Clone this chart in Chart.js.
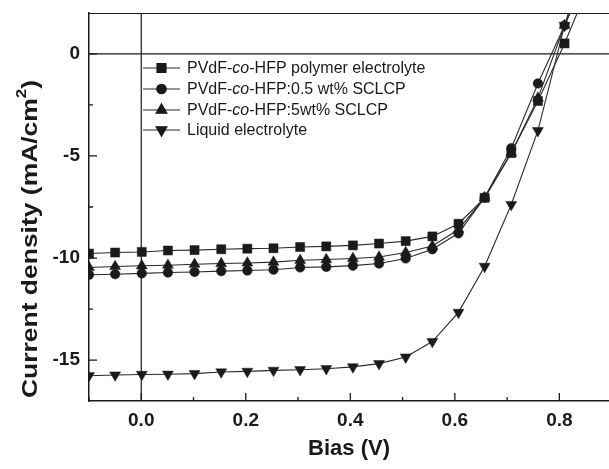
<!DOCTYPE html>
<html>
<head>
<meta charset="utf-8">
<script src="https://cdn.jsdelivr.net/npm/chart.js@4.4.1/dist/chart.umd.min.js"></script>
<style>
  html, body { margin: 0; padding: 0; background: #fff; }
</style>
</head>
<body>
<canvas id="jvChart" width="609" height="469"></canvas>
<script>
// bias points (V)
const bias = [-0.1, -0.05, 0.001, 0.051, 0.102, 0.153, 0.203, 0.253, 0.304, 0.354,
              0.405, 0.455, 0.506, 0.557, 0.607, 0.657, 0.708, 0.759, 0.81, 0.86];

// current density (mA/cm2)
const polymerElectrolyte = [-9.78, -9.73, -9.70, -9.63, -9.61, -9.57, -9.54, -9.52, -9.46, -9.43,
                            -9.38, -9.29, -9.17, -8.94, -8.32, -7.05, -4.86, -2.31, 0.51, 3.6];
const sclcp05 = [-10.82, -10.79, -10.75, -10.71, -10.68, -10.64, -10.61, -10.57, -10.46, -10.43,
                 -10.37, -10.27, -10.02, -9.57, -8.79, -7.04, -4.62, -1.45, 1.39, 4.3];
const sclcp5 = [-10.46, -10.41, -10.38, -10.35, -10.30, -10.27, -10.24, -10.20, -10.11, -10.07,
                -10.02, -9.95, -9.73, -9.41, -8.60, -7.04, -4.85, -2.17, 1.39, 4.4];
const liquidElectrolyte = [-15.76, -15.73, -15.70, -15.69, -15.66, -15.58, -15.55, -15.50, -15.47, -15.42,
                           -15.33, -15.17, -14.85, -14.09, -12.66, -10.41, -7.38, -3.76, 1.39, 5.5];

const legendLabels = [
  'PVdF-*co*-HFP polymer electrolyte',
  'PVdF-*co*-HFP:0.5 wt% SCLCP',
  'PVdF-*co*-HFP:5wt% SCLCP',
  'Liquid electrolyte'
];

const xTicks = [0.0, 0.2, 0.4, 0.6, 0.8];
const xMinorTicks = [-0.1, 0.1, 0.3, 0.5, 0.7];
const yTicks = [0, -5, -10, -15];
const yMinorTicks = [-2.5, -7.5, -12.5];

const FONT = '"Liberation Sans", Arial, Helvetica, sans-serif';
const INK = '#1a1a1a';

function pts(ys) {
  return bias.map((x, i) => ({ x: x, y: ys[i] }));
}

const markers = [
  { pointStyle: 'rect', radius: 6.4, rotation: 0 },
  { pointStyle: 'circle', radius: 4.8, rotation: 0 },
  { pointStyle: 'triangle', radius: 6.3, rotation: 0 },
  { pointStyle: 'triangle', radius: 6.3, rotation: 180 }
];
const seriesData = [polymerElectrolyte, sclcp05, sclcp5, liquidElectrolyte];

const datasets = seriesData.map((ys, i) => ({
  label: legendLabels[i].replace(/\*/g, ''),
  data: pts(ys),
  borderColor: '#2a2a2a',
  borderWidth: 1.1,
  backgroundColor: INK,
  pointBackgroundColor: INK,
  pointBorderColor: INK,
  pointBorderWidth: 0.5,
  pointStyle: markers[i].pointStyle,
  pointRadius: markers[i].radius,
  pointRotation: markers[i].rotation,
  tension: 0,
  fill: false
}));

// frame, zero lines, inward ticks, titles and legend
const framePlugin = {
  id: 'frame',
  beforeDatasetsDraw(chart) {
    const { ctx, chartArea: a, scales: { x, y } } = chart;
    ctx.save();
    ctx.strokeStyle = INK;
    ctx.lineWidth = 1.2;
    ctx.beginPath();
    ctx.moveTo(a.left, a.top + 0.5); ctx.lineTo(a.right, a.top + 0.5);
    const y0 = y.getPixelForValue(0);
    ctx.moveTo(a.left, y0); ctx.lineTo(a.right, y0);
    const x0 = x.getPixelForValue(0);
    ctx.moveTo(x0, a.top); ctx.lineTo(x0, a.bottom);
    ctx.stroke();

    ctx.lineWidth = 1.3;
    ctx.beginPath();
    xTicks.forEach(v => { const p = x.getPixelForValue(v); ctx.moveTo(p, a.bottom); ctx.lineTo(p, a.bottom - 8); });
    xMinorTicks.forEach(v => { const p = x.getPixelForValue(v); ctx.moveTo(p, a.bottom); ctx.lineTo(p, a.bottom - 4); });
    yTicks.forEach(v => { const p = y.getPixelForValue(v); ctx.moveTo(a.left, p); ctx.lineTo(a.left + 8, p); });
    yMinorTicks.forEach(v => { const p = y.getPixelForValue(v); ctx.moveTo(a.left, p); ctx.lineTo(a.left + 4, p); });
    ctx.stroke();
    ctx.restore();
  },
  afterDraw(chart) {
    const { ctx } = chart;
    ctx.save();
    ctx.fillStyle = INK;

    // x title
    ctx.font = 'bold 22px ' + FONT;
    ctx.textAlign = 'center';
    ctx.textBaseline = 'middle';
    ctx.fillText('Bias (V)', 349, 449);

    // y title with superscript
    const main = 'Current density (mA/cm';
    ctx.font = 'bold 22px ' + FONT;
    const wMain = ctx.measureText(main).width;
    ctx.font = 'bold 14px ' + FONT;
    const wSup = ctx.measureText('2').width;
    ctx.font = 'bold 22px ' + FONT;
    const wClose = ctx.measureText(')').width;
    const total = wMain + wSup + wClose;
    const stretch = 318 / total;
    ctx.translate(31, 239);
    ctx.rotate(-Math.PI / 2);
    ctx.scale(stretch, 1);
    ctx.textAlign = 'left';
    ctx.textBaseline = 'middle';
    let cx = -total / 2;
    ctx.fillText(main, cx, 0); cx += wMain;
    ctx.font = 'bold 14px ' + FONT;
    ctx.fillText('2', cx, -9); cx += wSup;
    ctx.font = 'bold 22px ' + FONT;
    ctx.fillText(')', cx, 0);
    ctx.restore();

    // legend
    ctx.save();
    const rows = [68, 89, 110, 130];
    legendLabels.forEach((lab, i) => {
      const ly = rows[i];
      ctx.strokeStyle = '#2a2a2a';
      ctx.lineWidth = 1.1;
      ctx.beginPath();
      ctx.moveTo(143, ly); ctx.lineTo(180, ly);
      ctx.stroke();
      ctx.fillStyle = INK;
      ctx.strokeStyle = INK;
      Chart.helpers.drawPoint(ctx, {
        pointStyle: markers[i].pointStyle,
        radius: markers[i].radius,
        rotation: markers[i].rotation,
        borderWidth: 0.5
      }, 161.5, ly);
      let tx = 187;
      ctx.textAlign = 'left';
      ctx.textBaseline = 'middle';
      lab.split('*').forEach((part, k) => {
        ctx.font = (k % 2 ? 'italic ' : '') + '16px ' + FONT;
        ctx.fillText(part, tx, ly + 1);
        tx += ctx.measureText(part).width;
      });
    });
    ctx.restore();
  }
};

function noPad(s) {
  s.paddingTop = 0; s.paddingBottom = 0; s.paddingLeft = 0; s.paddingRight = 0;
}

new Chart(document.getElementById('jvChart'), {
  type: 'line',
  data: { datasets: datasets },
  options: {
    responsive: false,
    animation: false,
    layout: { autoPadding: false, padding: { top: 13, left: 0, right: 0, bottom: 0 } },
    plugins: {
      legend: { display: false },
      tooltip: { enabled: false }
    },
    scales: {
      x: {
        type: 'linear',
        min: -0.1,
        max: 0.895,
        afterBuildTicks: s => { s.ticks = xTicks.map(v => ({ value: v })); },
        afterFit: s => { s.height = 68; noPad(s); },
        grid: { display: false, drawTicks: false },
        border: { display: true, color: INK, width: 1.5 },
        ticks: {
          color: INK,
          padding: 8,
          maxRotation: 0,
          font: { family: FONT, size: 19, weight: 'bold' },
          callback: v => v.toFixed(1)
        }
      },
      y: {
        type: 'linear',
        min: -17,
        max: 2,
        afterBuildTicks: s => { s.ticks = yTicks.map(v => ({ value: v })); },
        afterFit: s => { s.width = 89; noPad(s); },
        grid: { display: false, drawTicks: false },
        border: { display: true, color: INK, width: 1.5 },
        ticks: {
          color: INK,
          padding: 9,
          font: { family: FONT, size: 19, weight: 'bold' },
          callback: v => String(v)
        }
      }
    }
  },
  plugins: [framePlugin]
});
</script>
</body>
</html>
